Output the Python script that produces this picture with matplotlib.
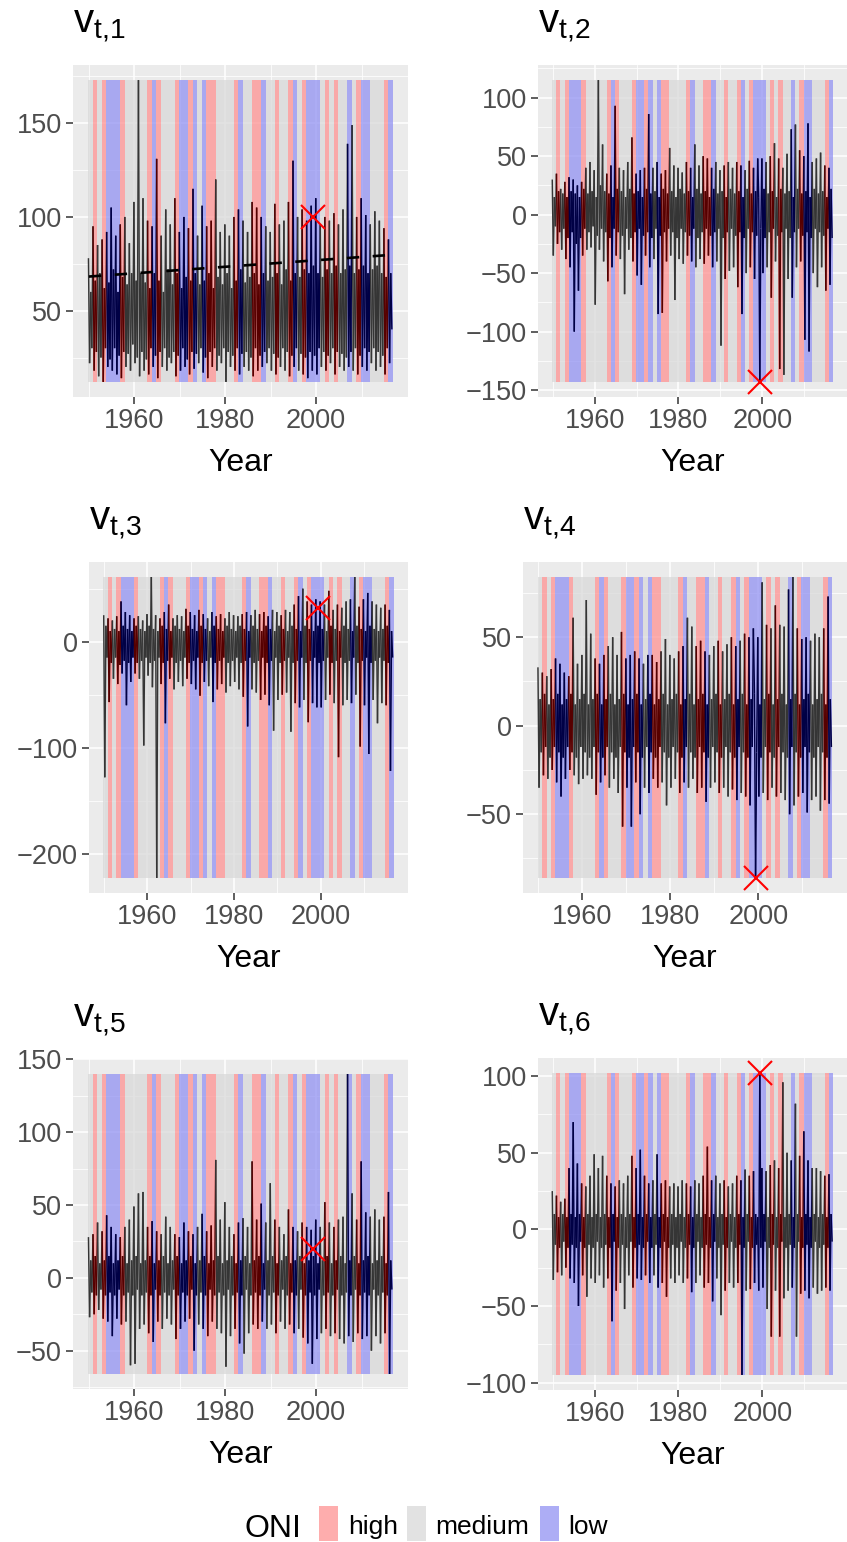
import numpy as np
import matplotlib
matplotlib.use("Agg")
import matplotlib.pyplot as plt
from matplotlib.collections import LineCollection
from matplotlib.patches import Rectangle
from matplotlib.ticker import MultipleLocator, FixedLocator

plt.rcParams['font.family'] = ['Liberation Sans', 'DejaVu Sans']
plt.rcParams['mathtext.fontset'] = 'custom'
plt.rcParams['mathtext.rm'] = 'Liberation Sans'
plt.rcParams['mathtext.it'] = 'Liberation Sans:italic'
plt.rcParams['mathtext.default'] = 'regular'

# ---------------------------------------------------------------- data
years = list(range(1950, 2017))
# ONI class per year : h = high, m = medium, l = low
oni = ("m h m h l l l h m m "
       "m m m h l h m m m h "
       "l l h l m l h h m m "
       "m m h l m m h h l m "
       "m h m m h l m h l l "
       "l m h m h m m l m h "
       "l l m m m h l").split()

# four readings per year (peak, trough, peak, trough)
v1 = [[78, 22, 60, 30], [95, 18, 66, 28], [85, 15, 70, 25], [88, 12, 62, 30], [92, 20, 65, 24],
      [105, 18, 72, 30], [90, 16, 60, 26], [96, 14, 68, 28], [100, 20, 64, 27], [86, 18, 70, 32],
      [108, 22, 66, 25], [173, 15, 70, 28], [110, 18, 65, 24], [98, 16, 62, 30], [95, 20, 70, 26],
      [131, 14, 66, 28], [90, 20, 60, 30], [104, 18, 72, 25], [96, 22, 64, 28], [110, 15, 70, 26],
      [92, 18, 62, 30], [100, 20, 68, 24], [94, 16, 66, 28], [115, 19, 70, 27], [90, 22, 64, 30],
      [106, 17, 66, 25], [95, 14, 70, 28], [98, 20, 62, 30], [120, 18, 68, 26], [92, 22, 64, 30],
      [96, 12, 70, 28], [90, 20, 62, 26], [100, 18, 66, 30], [104, 16, 72, 27], [98, 20, 65, 28],
      [92, 18, 68, 25], [108, 15, 70, 30], [105, 18, 64, 26], [100, 20, 70, 28], [95, 22, 66, 30],
      [92, 18, 68, 27], [107, 16, 70, 25], [96, 20, 64, 30], [98, 18, 72, 28], [108, 15, 66, 26],
      [130, 20, 70, 30], [100, 18, 68, 27], [104, 16, 72, 25], [98, 14, 70, 28], [106, 18, 74, 26],
      [110, 16, 70, 30], [96, 20, 68, 28], [100, 18, 72, 26], [98, 22, 70, 30], [102, 16, 74, 28],
      [96, 20, 70, 27], [104, 18, 72, 25], [139, 20, 74, 28], [149, 18, 70, 30], [100, 16, 72, 26],
      [110, 20, 74, 30], [101, 18, 70, 28], [96, 22, 72, 30], [103, 18, 74, 28], [98, 20, 70, 26],
      [94, 16, 68, 30], [88, 22, 70, 40]]

v2 = [[30, -35, 15, -10], [35, -25, 20, -15], [22, -30, 18, -12], [28, -38, 15, -20], [32, -45, 20, -15],
      [30, -100, 18, -25], [25, -65, 15, -20], [28, -35, 22, -12], [40, -30, 18, -15], [45, -28, 20, -10],
      [38, -77, 15, -18], [115, -30, 25, -12], [60, -40, 20, -15], [35, -57, 18, -20], [42, -45, 15, -12],
      [93, -35, 22, -15], [40, -38, 20, -18], [38, -68, 15, -12], [45, -30, 22, -20], [66, -40, 18, -15],
      [35, -52, 20, -12], [38, -60, 15, -18], [40, -35, 22, -15], [86, -45, 18, -20], [40, -38, 20, -12],
      [45, -85, 15, -18], [35, -84, 22, -15], [38, -40, 18, -12], [57, -35, 20, -15], [42, -73, 15, -20],
      [40, -38, 22, -12], [36, -42, 18, -15], [45, -35, 20, -18], [40, -40, 15, -12], [60, -45, 22, -20],
      [42, -38, 18, -15], [50, -42, 20, -12], [48, -35, 15, -18], [40, -45, 22, -15], [45, -40, 18, -12],
      [38, -112, 20, -20], [42, -55, 15, -15], [45, -48, 22, -12], [40, -45, 18, -18], [45, -62, 20, -15],
      [42, -85, 15, -20], [38, -50, 22, -12], [46, -45, 18, -15], [40, -55, 20, -18], [48, 15, -143, -12],
      [48, -50, 22, -20], [45, -45, 18, -15], [50, -71, 20, -12], [61, -40, 15, -18], [48, -132, 22, -15],
      [40, -137, 18, -12], [52, -55, 20, -20], [73, -71, 15, -15], [77, -45, 22, -12], [55, -40, 18, -18],
      [50, -107, 20, -15], [78, -117, 15, -20], [45, -50, 22, -12], [48, -62, 18, -15], [53, -45, 20, -18],
      [42, -65, 15, -12], [40, -60, 22, -20]]

v3 = [[25, -128, 15, -15], [22, -57, 10, -20], [20, -35, 12, -15], [24, -40, 10, -22], [38, -30, 15, -18],
      [28, -60, 12, -20], [25, -38, 10, -15], [22, -30, 15, -20], [24, -35, 12, -18], [20, -98, 10, -15],
      [26, -32, 15, -20], [61, -43, 12, -18], [25, -223, 10, -15], [22, -40, 15, -20], [28, -77, 12, -18],
      [35, -35, 10, -15], [22, -45, 15, -20], [25, -38, 12, -18], [24, -42, 10, -15], [31, -35, 15, -20],
      [28, -40, 12, -18], [25, -45, 10, -15], [30, -51, 15, -20], [26, -38, 12, -18], [22, -42, 10, -15],
      [28, -57, 15, -20], [24, -45, 12, -18], [26, -40, 10, -15], [22, -48, 15, -20], [28, -42, 12, -18],
      [25, -38, 10, -15], [24, -45, 15, -20], [26, -52, 12, -18], [28, -80, 10, -15], [25, -45, 15, -20],
      [30, -48, 12, -18], [26, -55, 10, -15], [28, -50, 15, -20], [24, -60, 12, -18], [30, -84, 10, -15],
      [28, -55, 15, -20], [25, -50, 12, -18], [30, -48, 10, -15], [28, -85, 15, -20], [35, -58, 12, -18],
      [43, -62, 10, -15], [50, -55, 15, -20], [38, -76, 12, -18], [35, -58, 10, -15], [40, -62, 15, -20],
      [38, -62, 12, -18], [35, -55, 10, -15], [48, -50, 15, -20], [30, -58, 12, -18], [35, -109, 10, -15],
      [32, -60, 15, -20], [38, -55, 12, -18], [40, -58, 10, -15], [61, -50, 15, -20], [33, -99, 12, -18],
      [40, -60, 10, -15], [46, -106, 15, -20], [38, -55, 12, -18], [35, -77, 10, -15], [32, -58, 12, -18],
      [35, -60, 15, -20], [30, -122, 10, -15]]

v4 = [[33, -35, 15, -15], [30, -28, 18, -12], [28, -30, 12, -18], [32, -25, 15, -12], [38, -32, 18, -15],
      [35, -40, 12, -18], [30, -30, 15, -12], [28, -25, 18, -15], [61, -28, 12, -18], [35, -33, 15, -12],
      [40, -30, 18, -15], [71, -28, 12, -18], [52, -30, 15, -12], [38, -39, 18, -15], [35, -32, 12, -18],
      [40, -28, 15, -12], [45, -35, 18, -15], [50, -30, 12, -18], [40, -38, 15, -12], [53, -57, 18, -15],
      [38, -35, 12, -18], [40, -57, 15, -12], [42, -32, 18, -15], [38, -50, 12, -18], [35, -35, 15, -12],
      [40, -38, 18, -15], [40, -30, 12, -18], [36, -35, 15, -12], [42, -32, 18, -15], [49, -45, 12, -18],
      [40, -35, 15, -12], [38, -30, 18, -15], [42, -38, 12, -18], [45, -32, 15, -12], [61, -35, 18, -15],
      [56, -30, 12, -18], [45, -38, 15, -12], [48, -35, 18, -15], [42, -43, 12, -18], [40, -35, 15, -12],
      [45, -32, 18, -15], [48, -38, 12, -18], [42, -35, 15, -12], [46, -40, 18, -15], [50, -36, 12, -18],
      [45, -42, 15, -12], [48, -38, 18, -15], [52, -40, 12, -18], [50, -45, 15, -12], [55, 18, -86, -15],
      [50, -40, 12, -18], [81, -38, 15, -12], [57, -42, 18, -15], [55, -35, 12, -18], [68, -40, 15, -12],
      [57, -38, 18, -15], [56, -42, 12, -18], [77, -50, 15, -12], [84, -45, 18, -15], [55, -40, 12, -18],
      [49, -38, 15, -12], [50, -49, 18, -15], [48, -42, 12, -18], [52, -40, 15, -12], [50, -48, 18, -15],
      [55, -42, 12, -18], [73, -44, 15, -12]]

v5 = [[28, -27, 12, -10], [30, -25, 15, -12], [38, -22, 10, -8], [32, -28, 12, -12], [43, -30, 15, -10],
      [35, -40, 10, -12], [30, -28, 12, -8], [28, -32, 15, -12], [35, -30, 10, -10], [40, -60, 12, -12],
      [49, -59, 15, -8], [58, -35, 10, -12], [59, -32, 12, -10], [35, -38, 15, -12], [39, -44, 10, -8],
      [32, -30, 12, -12], [30, -35, 15, -10], [42, -28, 10, -12], [35, -32, 12, -8], [30, -42, 15, -12],
      [28, -35, 10, -10], [38, -30, 12, -12], [32, -28, 15, -8], [30, -50, 10, -12], [35, -32, 12, -10],
      [44, -35, 15, -12], [32, -40, 10, -8], [36, -30, 12, -12], [81, -35, 15, -10], [40, -38, 10, -12],
      [52, -61, 12, -8], [35, -40, 15, -12], [30, -35, 10, -10], [38, -45, 12, -12], [41, -52, 15, -8],
      [35, -38, 10, -12], [80, -32, 12, -10], [40, -35, 15, -12], [51, -30, 10, -8], [38, -35, 12, -12],
      [65, -32, 15, -10], [40, -38, 10, -12], [35, -30, 12, -8], [30, -35, 15, -12], [47, -32, 10, -10],
      [35, -38, 12, -12], [32, -35, 15, -8], [38, -41, 10, -12], [35, -45, 12, -10], [33, -59, 15, -12],
      [40, -42, 10, -8], [35, -38, 12, -12], [52, -35, 15, -10], [38, -40, 10, -12], [35, -38, 12, -8],
      [40, -42, 15, -12], [42, -45, 10, -10], [140, -40, 12, -12], [58, -44, 15, -8], [40, -38, 10, -12],
      [80, -42, 12, -10], [45, -40, 15, -12], [42, -50, 10, -8], [47, -40, 12, -12], [40, -45, 15, -10],
      [42, -38, 10, -12], [59, -66, 12, -8]]

v6 = [[25, -33, 10, -10], [22, -28, 8, -12], [18, -30, 10, -8], [20, -25, 8, -12], [40, -32, 10, -10],
      [70, -35, 8, -12], [43, -50, 10, -8], [30, -30, 8, -12], [28, -44, 10, -10], [35, -32, 8, -12],
      [49, -35, 10, -8], [40, -30, 8, -12], [48, -38, 10, -10], [35, -32, 8, -12], [30, -60, 10, -8],
      [28, -40, 8, -12], [32, -35, 10, -10], [30, -52, 8, -12], [35, -30, 10, -8], [48, -38, 8, -12],
      [40, -32, 10, -10], [52, -33, 8, -12], [35, -30, 10, -8], [30, -35, 8, -12], [32, -30, 10, -10],
      [49, -38, 8, -12], [30, -35, 10, -8], [32, -44, 8, -12], [28, -32, 10, -10], [30, -35, 8, -12],
      [28, -30, 10, -8], [32, -35, 8, -12], [30, -32, 10, -10], [28, -41, 8, -12], [32, -35, 10, -8],
      [30, -30, 8, -12], [35, -38, 10, -10], [54, -35, 8, -12], [32, -47, 10, -8], [35, -32, 8, -12],
      [30, -56, 10, -10], [32, -40, 8, -12], [28, -35, 10, -8], [30, -38, 8, -12], [35, -35, 10, -10],
      [32, -95, 8, -12], [39, -40, 10, -8], [35, -39, 8, -12], [38, -35, 10, -10], [8, -40, 102, -12],
      [40, -38, 10, -8], [38, -52, 8, -12], [42, -70, 10, -10], [45, -40, 8, -12], [40, -70, 10, -8],
      [96, -45, 8, -12], [50, -40, 10, -10], [45, -38, 8, -12], [82, -70, 10, -8], [48, -42, 8, -12],
      [64, -40, 10, -10], [45, -45, 8, -12], [40, -38, 10, -8], [40, -42, 8, -12], [38, -40, 10, -10],
      [35, -38, 8, -12], [36, -40, 10, -8]]

series = [v1, v2, v3, v4, v5, v6]
titles = [r'$v_{t{,}1}$', r'$v_{t{,}2}$', r'$v_{t{,}3}$', r'$v_{t{,}4}$', r'$v_{t{,}5}$', r'$v_{t{,}6}$']
cross_year = 1999.4
cross_vals = [100, -143, 32, -86, 20, 102]
trend_years = [1950, 2016.7]
trend_vals = [68.2, 79.8]
ystep = [50, 50, 100, 50, 50, 50]

# ---------------------------------------------------------------- style
band_col = {'h': '#FE9292', 'm': '#D9D9D9', 'l': '#9292F2'}
line_col = {'h': '#560000', 'm': '#353535', 'l': '#000045'}
oni_of = dict(zip(years, oni))

W, H = 847, 1542
# panel boxes in pixels: left, right, top, bottom
boxes = [(73, 408, 65, 397), (538, 847, 65, 397),
         (89, 408, 562, 893), (523, 847, 562, 893),
         (73, 408, 1059, 1389), (538, 847, 1058, 1390)]

fig = plt.figure(figsize=(W / 100, H / 100), dpi=100)

t = np.repeat(years, 4) + np.tile([-0.1, 0.15, 0.4, 0.65], len(years))

for i, (vals, box) in enumerate(zip(series, boxes)):
    l, r, tp, bt = box
    ax = fig.add_axes([l / W, 1 - bt / H, (r - l) / W, (bt - tp) / H])
    y = np.asarray(vals, float).ravel()
    lo, hi = y.min(), y.max()
    ax.set_facecolor('#EBEBEB')
    for yr, c in zip(years, oni):
        ax.add_patch(Rectangle((yr - 0.15, lo), 1.0, hi - lo, facecolor=band_col[c],
                               edgecolor='none', alpha=0.75, zorder=1))
    pts = np.column_stack([t, y])
    segs = np.stack([pts[:-1], pts[1:]], axis=1)
    cols = [line_col[oni_of[int(np.floor(x + 0.15))]] for x in t[:-1]]
    ax.add_collection(LineCollection(segs, colors=cols, linewidths=1.05, zorder=2))
    if i == 0:
        ax.plot(trend_years, trend_vals, color='black', lw=1.9, ls=(0, (4.7, 5.1)), zorder=3)
    ax.plot([cross_year], [cross_vals[i]], ls='none', marker='x', color='red',
            ms=17, mew=1.5, zorder=4)

    span = hi - lo
    ax.set_ylim(lo - 0.05 * span, hi + 0.05 * span)
    x0, x1 = 1949.85, 2016.85
    ax.set_xlim(x0 - 0.05 * (x1 - x0), x1 + 0.05 * (x1 - x0))
    ax.xaxis.set_major_locator(FixedLocator([1960, 1980, 2000]))
    ax.xaxis.set_minor_locator(FixedLocator([1950, 1970, 1990, 2010]))
    ax.yaxis.set_major_locator(MultipleLocator(ystep[i]))
    ax.yaxis.set_minor_locator(MultipleLocator(ystep[i] / 2))
    ax.set_axisbelow(True)
    ax.grid(which='major', color='white', lw=1.1)
    ax.grid(which='minor', color='white', lw=0.55)
    for s in ax.spines.values():
        s.set_visible(False)
    ax.tick_params(which='major', length=5, width=1.1, color='#333333',
                   labelsize=19.5, labelcolor='#4D4D4D', pad=3)
    ax.tick_params(which='minor', length=0)
    ax.yaxis.set_major_formatter(plt.FuncFormatter(lambda v, p: f'{v:.0f}'.replace('-', '\u2212')))

    fig.text(l / W, 1 - (tp - 32) / H, titles[i], fontsize=29, ha='left', va='baseline')
    fig.text((l + r) / 2 / W, 1 - (bt + 74) / H, 'Year', fontsize=23, ha='center', va='baseline')

# legend
fig.text(244 / W, 1 - 1537 / H, 'ONI', fontsize=23, ha='left', va='baseline')
for kx, tx, c, lab in [(319, 348, 'h', 'high'), (407, 435, 'm', 'medium'), (540, 568, 'l', 'low')]:
    fig.add_artist(Rectangle((kx / W, 1 - 1541 / H), 19 / W, 35 / H, transform=fig.transFigure,
                             facecolor=band_col[c], alpha=0.75, edgecolor='none'))
    fig.text(tx / W, 1 - 1534 / H, lab, fontsize=19, ha='left', va='baseline')

fig.savefig('out.png', dpi=100)
